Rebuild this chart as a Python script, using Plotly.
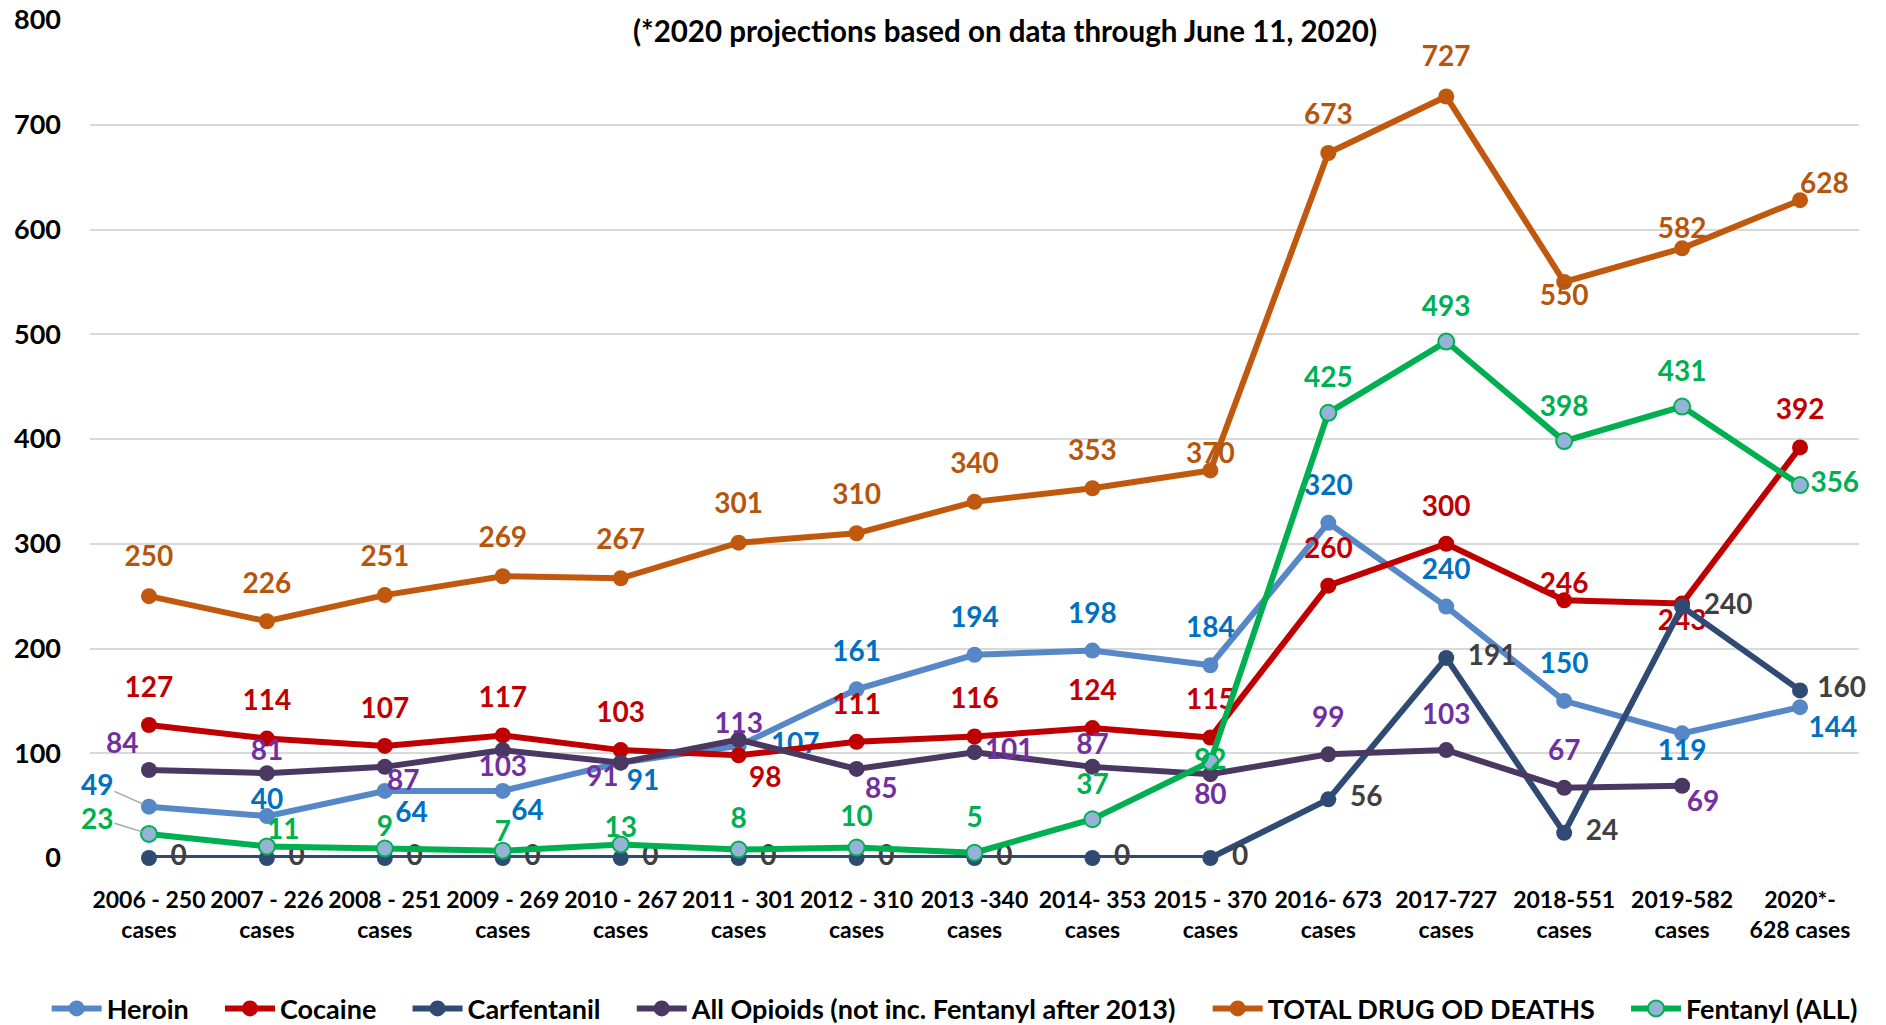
import plotly.graph_objects as go

categories = ["2006 - 250<br>cases", "2007 - 226<br>cases", "2008 - 251<br>cases", "2009 - 269<br>cases",
              "2010 - 267<br>cases", "2011 - 301<br>cases", "2012 - 310<br>cases", "2013 -340<br>cases",
              "2014- 353<br>cases", "2015 - 370<br>cases", "2016- 673<br>cases", "2017-727<br>cases",
              "2018-551<br>cases", "2019-582<br>cases", "2020*-<br>628 cases"]

heroin = [49, 40, 64, 64, 91, 107, 161, 194, 198, 184, 320, 240, 150, 119, 144]
cocaine = [127, 114, 107, 117, 103, 98, 111, 116, 124, 115, 260, 300, 246, 243, 392]
carfentanil = [0, 0, 0, 0, 0, 0, 0, 0, 0, 0, 56, 191, 24, 240, 160]
all_opioids = [84, 81, 87, 103, 91, 113, 85, 101, 87, 80, 99, 103, 67, 69, None]
total_deaths = [250, 226, 251, 269, 267, 301, 310, 340, 353, 370, 673, 727, 550, 582, 628]
fentanyl = [23, 11, 9, 7, 13, 8, 10, 5, 37, 92, 425, 493, 398, 431, 356]

FONT = "Lato, Calibri, Carlito, Open Sans, sans-serif"
LBL = 28

def labels(vals, skip=()):
    return ["" if (v is None or i in skip) else str(v) for i, v in enumerate(vals)]

# label placement (position, spacing size) per point
heroin_pos = ["middle left", "top center", "bottom right", "bottom right", "bottom right", "middle right",
              "top center", "top center", "top center", "top center", "top center", "top center",
              "top center", "bottom center", "bottom right"]
heroin_gap = [15, 0, 15, 12, 8, 50, 33, 32, 32, 32, 32, 32, 32, 8, 12]
cocaine_pos = ["top center"] * 5 + ["bottom right"] + ["top center"] * 7 + ["bottom center", "top center"]
cocaine_gap = [32, 33, 32, 32, 32, 15, 32, 32, 32, 33, 32, 32, 0, 8, 32]
carf_pos = ["middle right"] * 15
carf_gap = [33] * 14 + [26]
opi_pos = ["top left", "top center", "bottom right", "bottom center", "bottom left", "top center",
           "bottom right", "middle right", "top center", "bottom center", "top center", "top center",
           "top center", "bottom right", "top center"]
opi_gap = [15, 8, 2, 6, 2, 0, 12, 15, 8, 13, 31, 29, 31, 6, 0]
total_pos = ["top center"] * 12 + ["bottom center", "top center", "top right"]
total_gap = [36, 32, 34, 34, 34, 34, 34, 34, 32, 0, 34, 36, 1, 3, 0]
fent_pos = ["middle left", "top right"] + ["top center"] * 7 + ["middle center"] + ["top center"] * 4 + ["middle right"]
fent_gap = [15, 0, 8, 3, 0, 22, 22, 28, 28, 0, 28, 28, 28, 28, 15]

series = [
    ("Heroin", heroin, "#5687C6", "#0070C0", heroin_pos, heroin_gap, {0}, None),
    ("Cocaine", cocaine, "#C00000", "#C00000", cocaine_pos, cocaine_gap, set(), None),
    ("Carfentanil", carfentanil, "#2F4B73", "#404040", carf_pos, carf_gap, set(), None),
    ("All Opioids (not inc. Fentanyl after 2013)", all_opioids, "#4B3862", "#7030A0", opi_pos, opi_gap, set(), None),
    ("TOTAL DRUG OD DEATHS", total_deaths, "#C0590E", "#B5560C", total_pos, total_gap, set(), None),
    ("Fentanyl (ALL)", fentanyl, "#00B050", "#00B050", fent_pos, fent_gap, {0}, "#95B3D7"),
]

PAD = "\u00a0" * 4

fig = go.Figure()
for name, vals, lc, tc, pos, gap, skip, mfill in series:
    marker = dict(size=16, color=mfill if mfill else lc, line=dict(width=0))
    if mfill:
        marker["line"] = dict(color=lc, width=2)
    fig.add_trace(go.Scatter(
        x=categories, y=vals, name=name + PAD, mode="lines+markers",
        line=dict(color=lc, width=6), marker=marker, cliponaxis=False,
    ))
    fig.add_trace(go.Scatter(
        x=categories, y=vals, mode="markers+text", showlegend=False, hoverinfo="skip",
        marker=dict(size=gap, color="rgba(0,0,0,0)", opacity=0, line=dict(width=0)),
        text=labels(vals, skip), textposition=pos,
        textfont=dict(family=FONT, size=LBL, color=tc, weight="bold"),
        cliponaxis=False,
    ))

# leader-line labels for the first points
for vals, col, ax, ay in [(heroin, "#0070C0", -52, -23), (fentanyl, "#00B050", -52, -16)]:
    fig.add_annotation(x=categories[0], y=vals[0], text=str(vals[0]), showarrow=True,
                       arrowhead=0, arrowwidth=1.5, arrowcolor="#A6A6A6", ax=ax, ay=ay,
                       standoff=7, font=dict(family=FONT, size=LBL, color=col, weight="bold"))

fig.add_annotation(x=0.5175, y=0.988, xref="paper", yref="paper", showarrow=False,
                   xanchor="center", yanchor="middle",
                   text="(*2020 projections based on data through June 11, 2020)",
                   font=dict(family=FONT, size=29.5, color="#000000", weight="bold"))

fig.update_layout(
    width=1886, height=1025,
    margin=dict(l=90, r=27, t=20, b=167, autoexpand=False),
    paper_bgcolor="white", plot_bgcolor="white",
    font=dict(family=FONT, color="#000000"),
    showlegend=True,
    legend=dict(orientation="h", x=-0.0245, xanchor="left", y=-0.18, yanchor="middle",
                font=dict(family=FONT, size=27, color="#000000", weight="bold"),
                itemwidth=50, bgcolor="rgba(0,0,0,0)", tracegroupgap=0),
    xaxis=dict(range=[-0.5, 14.5], showgrid=False, zeroline=False, showline=False,
               tickfont=dict(family=FONT, size=23, color="#000000", weight="bold"),
               ticks="", tickangle=0, automargin=False, ticklabelstandoff=26),
    yaxis=dict(range=[0, 800], dtick=100, showgrid=True, gridcolor="#D9D9D9", gridwidth=1.5,
               zeroline=False, showline=False, ticks="", automargin=False,
               tickfont=dict(family=FONT, size=27, color="#000000", weight="bold"),
               ticklabelstandoff=28),
)

fig.write_html("out.html", config={"displayModeBar": False},
               post_script="document.body.style.margin='0px';document.body.style.overflow='hidden';")
